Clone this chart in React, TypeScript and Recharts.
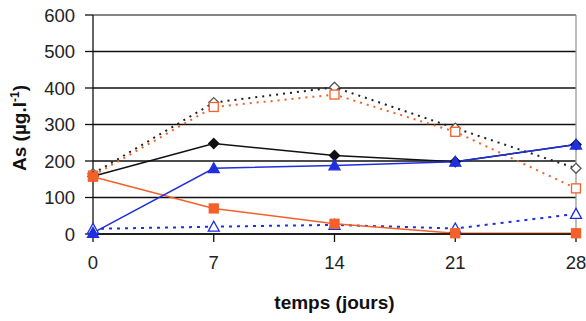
import { LineChart, Line, XAxis, YAxis, CartesianGrid, ReferenceLine } from "recharts";

const days = [0, 7, 14, 21, 28];
const yTicks = [0, 100, 200, 300, 400, 500, 600];

const blackSolid = [158, 248, 215, 198, 245];
const orangeSolid = [157, 70, 28, 2, 2];
const blueSolid = [3, 180, 188, 198, 245];
const blackDotted = [165, 360, 402, 290, 180];
const orangeDotted = [160, 348, 382, 280, 125];
const blueDashed = [14, 20, 25, 15, 55];

const data = days.map((d, i) => ({
  day: d,
  blackSolid: blackSolid[i],
  orangeSolid: orangeSolid[i],
  blueSolid: blueSolid[i],
  blackDotted: blackDotted[i],
  orangeDotted: orangeDotted[i],
  blueDashed: blueDashed[i],
}));

const ORANGE = "#f4602a";
const BLUE = "#1f2fe0";

type Shape = "diamond" | "square" | "triangle";

function marker(shape: Shape, color: string, filled: boolean) {
  return (props: any) => {
    const { cx, cy, index } = props;
    const fill = filled ? color : "#fff";
    const key = `${shape}-${color}-${filled}-${index}`;
    if (shape === "diamond") {
      const r = 5;
      return (
        <path key={key} d={`M${cx},${cy - r}L${cx + r},${cy}L${cx},${cy + r}L${cx - r},${cy}Z`}
          fill={fill} stroke={color} strokeWidth={1.3} />
      );
    }
    if (shape === "square") {
      const r = 4.5;
      return <rect key={key} x={cx - r} y={cy - r} width={r * 2} height={r * 2} fill={fill} stroke={color} strokeWidth={1.3} />;
    }
    const r = 5.5;
    return (
      <path key={key} d={`M${cx},${cy - r}L${cx + r},${cy + r * 0.8}L${cx - r},${cy + r * 0.8}Z`}
        fill={fill} stroke={color} strokeWidth={1.3} />
    );
  };
}

const yLabel = () => (
  <text x={0} y={0} transform="translate(26,128) rotate(-90)" textAnchor="middle"
    fontSize={19} fontWeight="bold" fill="#111" fontFamily="Liberation Sans, Arial, sans-serif">
    As (µg.l<tspan dy={-7} fontSize={12}>-1</tspan><tspan dy={7}>)</tspan>
  </text>
);

export default function App() {
  const font = { fontSize: 18.5, fill: "#222", fontFamily: "Liberation Sans, Arial, sans-serif" };
  return (
    <div style={{ position: "absolute", left: 0, top: 0, background: "#fff" }}>
      <LineChart width={586} height={321} data={data} margin={{ top: 15, right: 10, bottom: 0, left: 0 }}>
        <CartesianGrid vertical={false} stroke="#111" strokeWidth={1.3} />
        <ReferenceLine y={600} stroke="#999" strokeWidth={1.3} />
        <ReferenceLine x={28} stroke="#999" strokeWidth={1.3} />
        <XAxis
          dataKey="day"
          type="number"
          domain={[0, 28]}
          ticks={days}
          height={87}
          tickSize={8}
          tickMargin={14}
          stroke="#111"
          strokeWidth={1.3}
          tick={font}
          label={{
            value: "temps (jours)",
            position: "insideBottom",
            offset: 12,
            style: { fontSize: 19, fontWeight: "bold", fill: "#111", fontFamily: "Liberation Sans, Arial, sans-serif" },
          }}
        />
        <YAxis
          type="number"
          domain={[0, 600]}
          ticks={yTicks}
          width={93}
          tickSize={8}
          tickMargin={10}
          stroke="#111"
          strokeWidth={1.3}
          tick={font}
          label={{ content: yLabel }}
        />
        <Line dataKey="blackDotted" stroke="#222" strokeWidth={2} strokeDasharray="2 5" dot={marker("diamond", "#555", false)} isAnimationActive={false} />
        <Line dataKey="orangeDotted" stroke={ORANGE} strokeWidth={2} strokeDasharray="2 5" dot={marker("square", ORANGE, false)} isAnimationActive={false} />
        <Line dataKey="blueDashed" stroke={BLUE} strokeWidth={2} strokeDasharray="3 5" dot={marker("triangle", BLUE, false)} isAnimationActive={false} />
        <Line dataKey="blackSolid" stroke="#111" strokeWidth={1.5} dot={marker("diamond", "#111", true)} isAnimationActive={false} />
        <Line dataKey="orangeSolid" stroke={ORANGE} strokeWidth={1.5} dot={marker("square", ORANGE, true)} isAnimationActive={false} />
        <Line dataKey="blueSolid" stroke={BLUE} strokeWidth={1.5} dot={marker("triangle", BLUE, true)} isAnimationActive={false} />
      </LineChart>
    </div>
  );
}
